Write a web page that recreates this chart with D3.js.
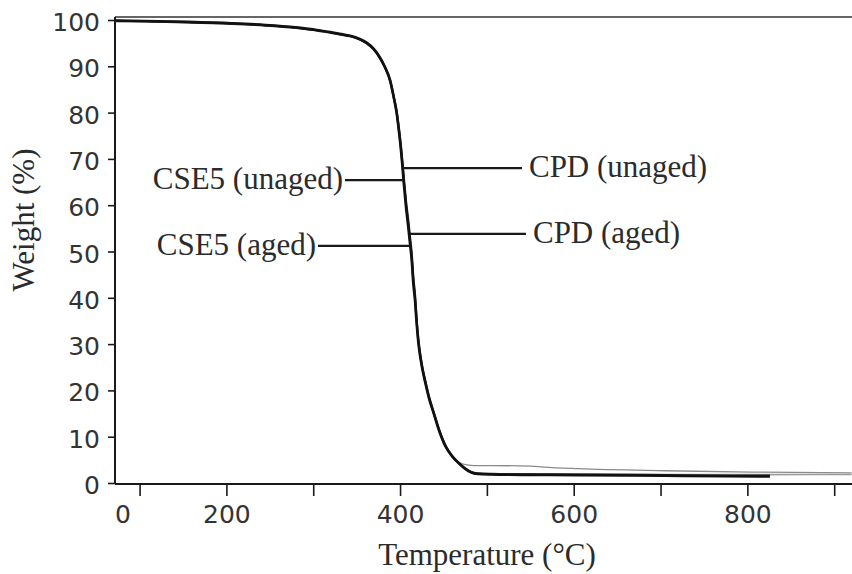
<!DOCTYPE html>
<html>
<head>
<meta charset="utf-8">
<script src="https://cdn.jsdelivr.net/npm/d3@7"></script>
<style>
  html, body { margin: 0; padding: 0; background: #fff; }
  svg { display: block; }
</style>
</head>
<body>
<svg id="chart" width="852" height="574"></svg>
<script>
// ---- data ----
const yTicks = [0, 10, 20, 30, 40, 50, 60, 70, 80, 90, 100];
const xTicks = [100, 200, 300, 400, 500, 600, 700, 800, 900];
const xTickLabels = ["", "200", "", "400", "", "600", "", "800", ""];
const xZeroLabel = { value: 81, text: "0" };

// shared temperature grid for the decomposition step (°C)
const dropT = [72, 105.5, 155.5, 205.5, 255.5, 285.5, 305.5, 319.5, 330.5, 342.5, 353.5, 361.5, 369.5, 376.5, 382.5, 388.5, 392.5, 396, 399, 401, 402.7, 404.2, 406.8, 409.4, 411.4, 413.4, 415.2, 417.2, 419.1, 421, 423, 425.5, 429.4, 433.2, 439, 444.8, 452.5, 460.2];

// CSE5 (unaged) — black
const cse5UnagedT = dropT.concat([467.9, 474, 481.5, 489.5, 505.5, 550.5, 605.5, 705.5, 775.5, 826]);
const cse5UnagedW = [99.9, 99.8, 99.6, 99.3, 98.8, 98.3, 97.8, 97.4, 97.0, 96.6, 95.9, 95.1, 93.8, 92.0, 89.9, 87.0, 83.5, 80.0, 75.5, 72.0, 68.5, 65.0, 59.7, 55.4, 51.8, 48.2, 43.2, 39.5, 34.5, 30.5, 27.6, 24.8, 21.4, 18.4, 14.9, 11.4, 7.85, 5.7,
  4.2, 3.2, 2.3, 1.95, 1.85, 1.75, 1.7, 1.55, 1.45, 1.4];

// CSE5 (aged) — black
const cse5AgedT = dropT.concat([467.9, 474, 481.5, 489.5, 505.5, 550.5, 605.5, 705.5, 775.5, 826]);
const cse5AgedW = [99.8, 99.7, 99.5, 99.2, 98.7, 98.2, 97.7, 97.3, 96.9, 96.5, 95.8, 95.0, 93.7, 91.9, 89.8, 86.9, 83.6, 80.3, 76.0, 72.6, 69.2, 65.9, 60.8, 56.6, 53.0, 49.4, 44.4, 40.5, 35.2, 31.1, 28.0, 25.1, 21.7, 18.7, 15.1, 11.6, 8.0, 5.8,
  4.3, 3.3, 2.4, 2.05, 1.95, 1.85, 1.8, 1.7, 1.6, 1.6];

// CPD (unaged) — thin grey
const cpdUnagedT = dropT.concat([467.9, 474, 481.5, 489.5, 505.5, 550.5, 565, 605.5, 705.5, 805, 920]);
const cpdUnagedW = [99.8, 99.7, 99.5, 99.2, 98.7, 98.2, 97.7, 97.3, 96.9, 96.5, 95.8, 95.0, 93.7, 91.9, 89.8, 86.9, 83.6, 80.3, 76.0, 72.6, 69.2, 65.9, 60.8, 56.6, 53.0, 49.4, 44.4, 40.5, 35.2, 31.1, 28.0, 25.1, 21.7, 18.7, 15.1, 11.6, 8.0, 5.9,
  4.5, 4.0, 3.8, 3.75, 3.75, 3.65, 3.45, 3.1, 2.65, 2.35, 2.2];

// CPD (aged) — grey
const cpdAgedT = dropT.concat([467.9, 474, 481.5, 489.5, 505.5, 550.5, 605.5, 705.5, 805, 920]);
const cpdAgedW = [99.8, 99.7, 99.5, 99.2, 98.7, 98.2, 97.7, 97.3, 96.9, 96.5, 95.8, 95.0, 93.7, 91.9, 89.8, 86.9, 83.6, 80.3, 76.0, 72.6, 69.2, 65.9, 60.8, 56.6, 53.0, 49.4, 44.4, 40.5, 35.2, 31.1, 28.0, 25.1, 21.7, 18.7, 15.1, 11.6, 8.0, 5.8,
  4.3, 3.3, 2.4, 2.1, 2.0, 1.95, 1.9, 1.85, 1.8, 1.85];

// annotations: label, weight of leader, leader from/to temperature, text side
const annLabels = ["CSE5 (unaged)", "CPD (unaged)", "CSE5 (aged)", "CPD (aged)"];
const annWeight = [65.4, 68.0, 51.2, 53.8];
const annFromT  = [336.6, 403.4, 305.5, 411.4];
const annToT    = [403.4, 540.4, 411.5, 545];
const annSide   = ["left", "right", "left", "right"];

// ---- layout ----
const svg = d3.select("#chart");
const pLeft = 115, pRight = 852, pTop = 17, pBottom = 484;

const x = d3.scaleLinear().domain([71.7, 920.5]).range([pLeft, pRight]);
const y = d3.scaleLinear().domain([0, 100]).range([483, 20]);

const ink = "#1a1a1a";
const txt = "#2b2b2b";
const serif = "Liberation Serif, Times New Roman, serif";
const sans = "DejaVu Sans, Verdana, sans-serif";

// frame lines
svg.append("line").attr("x1", pLeft).attr("x2", pRight).attr("y1", pTop).attr("y2", pTop)
  .attr("stroke", "#333").attr("stroke-width", 1.6);
svg.append("line").attr("x1", pLeft).attr("x2", pLeft).attr("y1", pTop).attr("y2", pBottom)
  .attr("stroke", ink).attr("stroke-width", 2);
svg.append("line").attr("x1", pLeft).attr("x2", pRight).attr("y1", pBottom).attr("y2", pBottom)
  .attr("stroke", ink).attr("stroke-width", 2);

// y axis
const yAxis = d3.axisLeft(y).tickValues(yTicks).tickSize(7).tickPadding(8).tickSizeOuter(0);
const gy = svg.append("g").attr("transform", `translate(${pLeft},0)`).call(yAxis);
gy.select(".domain").remove();
gy.selectAll(".tick line").attr("stroke", ink).attr("stroke-width", 1.6);
gy.selectAll(".tick text").attr("font-family", sans).attr("font-size", 25)
  .attr("fill", "#333").attr("dy", "0.42em");

// x axis
const xAxis = d3.axisBottom(x).tickValues(xTicks).tickSize(12).tickPadding(9).tickSizeOuter(0)
  .tickFormat((d, i) => xTickLabels[i]);
const gx = svg.append("g").attr("transform", `translate(0,${pBottom})`).call(xAxis);
gx.select(".domain").remove();
gx.selectAll(".tick line").attr("stroke", ink).attr("stroke-width", 1.6);
gx.selectAll(".tick text").attr("font-family", sans).attr("font-size", 25).attr("fill", "#333");
gx.append("text").attr("x", x(xZeroLabel.value)).attr("y", 21).attr("dy", "0.71em")
  .attr("text-anchor", "middle").attr("font-family", sans).attr("font-size", 25)
  .attr("fill", "#333").text(xZeroLabel.text);

// axis titles
svg.append("text").attr("x", 487).attr("y", 565).attr("text-anchor", "middle")
  .attr("font-family", serif).attr("font-size", 31)
  .attr("fill", txt).text("Temperature (\u00B0C)");
svg.append("text").attr("transform", "translate(34,220) rotate(-90)").attr("text-anchor", "middle")
  .attr("font-family", serif).attr("font-size", 31)
  .attr("fill", txt).text("Weight (%)");

// curves
const line = d3.line().x(d => x(d[0])).y(d => y(d[1])).curve(d3.curveMonotoneX);
const series = [
  { t: cpdUnagedT, w: cpdUnagedW, color: "#8a8a8a", width: 1.3 },
  { t: cpdAgedT, w: cpdAgedW, color: "#9a9a9a", width: 1.6 },
  { t: cse5AgedT, w: cse5AgedW, color: "#222", width: 2.4 },
  { t: cse5UnagedT, w: cse5UnagedW, color: "#111", width: 2.6 }
];
svg.append("g").selectAll("path").data(series).join("path")
  .attr("d", s => line(s.t.map((t, i) => [t, s.w[i]])))
  .attr("fill", "none").attr("stroke", s => s.color).attr("stroke-width", s => s.width)
  .attr("stroke-linejoin", "round");

// annotations
const ann = svg.append("g");
annLabels.forEach((lab, i) => {
  const yy = y(annWeight[i]);
  ann.append("line").attr("x1", x(annFromT[i])).attr("x2", x(annToT[i]))
    .attr("y1", yy).attr("y2", yy).attr("stroke", ink).attr("stroke-width", 2.2);
  const isLeft = annSide[i] === "left";
  ann.append("text")
    .attr("x", isLeft ? x(annFromT[i]) - 2 : x(annToT[i]) + 7)
    .attr("y", yy + 9)
    .attr("text-anchor", isLeft ? "end" : "start")
    .attr("font-family", serif).attr("font-size", 31)
    .attr("fill", txt).text(lab);
});
</script>
</body>
</html>
